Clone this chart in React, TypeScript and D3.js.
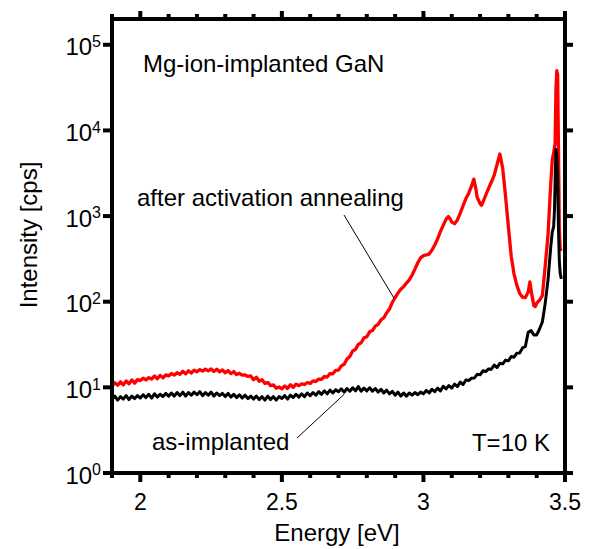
import React from 'react';
import * as d3 from 'd3';

const WIDTH = 591;
const HEIGHT = 549;
const FONT = '"Liberation Sans", Arial, Helvetica, sans-serif';

// Both spectra are sampled on a 0.01 eV grid from 1.90 eV, then listed point by point near the band edge.
const GRID_START = 1.9;
const GRID_STEP = 0.01;

// As-implanted PL intensity [cps], 1.90–3.45 eV
const asImplantedGrid = [
  7.2, 7.9, 7.1, 7.8, 7.3, 8.0, 7.2, 7.9, 7.4, 8.0,
  7.5, 8.2, 7.6, 8.3, 7.5, 8.4, 7.7, 8.3, 7.8, 8.5,
  7.9, 8.6, 7.9, 8.7, 8.0, 8.8, 7.9, 8.7, 8.1, 8.8,
  8.2, 8.9, 8.0, 8.7, 8.1, 8.8, 7.9, 8.6, 8.0, 8.5,
  7.8, 8.5, 7.7, 8.3, 7.6, 8.2, 7.5, 8.1, 7.4, 7.9,
  7.3, 7.9, 7.2, 7.8, 7.1, 7.9, 7.2, 7.8, 7.1, 7.8,
  7.4, 8.0, 7.3, 8.1, 7.6, 8.3, 7.7, 8.4, 7.8, 8.6,
  8.0, 8.7, 8.1, 8.9, 8.3, 9.1, 8.4, 9.3, 8.6, 9.4,
  8.9, 9.6, 8.8, 9.7, 9.0, 9.9, 9.1, 10.2, 9.0, 9.8,
  9.1, 9.9, 9.0, 9.7, 8.8, 9.5, 8.6, 9.3, 8.4, 9.0,
  8.1, 8.8, 7.9, 8.6, 7.9, 8.6, 8.1, 8.7, 8.2, 8.8,
  8.4, 9.2, 8.6, 9.5, 8.9, 9.8, 9.1, 10.3, 9.6, 10.5,
  9.8, 10.9, 10.2, 11.5, 10.8, 12.2, 12.0, 12.8, 12.9, 14.2,
  14.0, 15.6, 15.3, 16.4, 16.3, 18.2, 17.0, 19.1, 18.8, 20.8,
  20.4, 22.9, 22.5, 25.1, 25.2, 28.9, 30.0, 44.0, 46.0, 41.0,
  41.0, 48.0, 58.0, 95.0, 180.0, 450.0,
];
const asImplantedEdgeEnergy = [3.455, 3.46, 3.463, 3.466, 3.468, 3.471, 3.474, 3.477, 3.48, 3.483, 3.487];
const asImplantedEdgeCps = [650, 760, 1200, 3500, 6000, 5000, 3000, 700, 300, 215, 185];

// After activation annealing PL intensity [cps], 1.90–2.95 eV
const annealedGrid = [
  10.3, 11.3, 10.6, 11.6, 10.7, 11.9, 11.0, 12.2, 11.2, 12.3,
  12.0, 12.8, 12.2, 13.0, 12.5, 13.6, 12.6, 13.8, 12.9, 14.0,
  13.6, 14.5, 13.9, 14.8, 14.2, 15.4, 14.4, 15.6, 14.7, 15.9,
  15.2, 16.1, 15.5, 16.3, 15.6, 16.4, 15.3, 16.3, 15.2, 16.0,
  14.8, 15.7, 14.5, 15.3, 14.1, 14.6, 13.9, 14.0, 13.4, 13.6,
  12.3, 13.1, 11.8, 12.3, 11.1, 11.4, 10.5, 10.7, 9.8, 10.1,
  9.6, 10.4, 9.7, 10.7, 10.0, 10.9, 10.5, 11.0, 10.8, 11.4,
  11.1, 11.9, 11.7, 12.5, 12.4, 13.4, 13.2, 14.5, 14.4, 15.8,
  15.9, 17.8, 18.6, 21.4, 22.9, 26.6, 27.8, 31.8, 33.2, 37.8,
  39.0, 44.5, 46.0, 52.0, 54.5, 61.5, 65.0, 74.0, 82.0, 98.0,
  112, 126, 140, 150, 165, 180,
];
const annealedEnergy = [
  2.96, 2.97, 2.98, 2.99, 3.0, 3.01, 3.02, 3.03, 3.04, 3.05, 3.06, 3.07, 3.08,
  3.088, 3.095, 3.1, 3.11, 3.12, 3.13, 3.14, 3.15, 3.16, 3.17, 3.178, 3.185,
  3.19, 3.2, 3.205, 3.21, 3.22, 3.23, 3.24, 3.25, 3.26, 3.27, 3.28, 3.29, 3.3,
  3.31, 3.32, 3.33, 3.34, 3.35, 3.36, 3.37, 3.376, 3.382, 3.39, 3.395, 3.4,
  3.41, 3.42, 3.43, 3.44, 3.45, 3.455, 3.46, 3.465, 3.468, 3.471, 3.474, 3.477,
  3.48, 3.483, 3.486,
];
const annealedCps = [
  205, 240, 285, 325, 345, 352, 360, 400, 460, 540, 660, 780, 920,
  990, 920, 850, 815, 900, 1080, 1320, 1600, 1850, 2250, 2700, 2100,
  1650, 1400, 1340, 1450, 1750, 2100, 2500, 3000, 4000, 5300, 3600, 1700, 750,
  340, 210, 155, 125, 113, 112, 130, 170, 125, 90, 88, 96,
  104, 118, 260, 600, 2500, 4500, 5500, 7000, 30000, 50000, 45000, 6000,
  700, 420, 390,
];

const xMajorTicks = [2, 2.5, 3, 3.5];
const xMajorLabels = ['2', '2.5', '3', '3.5'];
const xMinorTicks = [1.9, 2.1, 2.2, 2.3, 2.4, 2.6, 2.7, 2.8, 2.9, 3.1, 3.2, 3.3, 3.4];
const yTicks = [1, 10, 100, 1000, 10000, 100000];
const yExponents = ['0', '1', '2', '3', '4', '5'];

// Label leader anchors on the curves, in data units [eV, cps]
const annealedAnchor: [number, number] = [2.896, 110];
const asImplantedAnchor: [number, number] = [2.72, 8.3];

const plot = { left: 112, right: 565, top: 19, bottom: 473 };

type Pt = [number, number];

function toPoints(grid: number[], energies: number[], cps: number[]): Pt[] {
  const pts: Pt[] = grid.map((v, i) => [GRID_START + i * GRID_STEP, v]);
  energies.forEach((e, i) => pts.push([e, cps[i]]));
  return pts;
}

export default function App() {
  const x = d3.scaleLinear().domain([1.9, 3.5]).range([plot.left, plot.right]);
  const y = d3.scaleLog().domain([1, 2e5]).range([plot.bottom, plot.top]);
  const line = d3
    .line<Pt>()
    .x((d) => x(d[0]))
    .y((d) => y(d[1]));

  const annealed = toPoints(annealedGrid, annealedEnergy, annealedCps);
  const asImplanted = toPoints(asImplantedGrid, asImplantedEdgeEnergy, asImplantedEdgeCps);

  const axisW = 4;
  const majorLen = 9;
  const minorLen = 5;

  return (
    <svg
      width={WIDTH}
      height={HEIGHT}
      style={{ position: 'absolute', left: 0, top: 0, background: '#fff' }}
      fontFamily={FONT}
    >
      <rect x={0} y={0} width={WIDTH} height={HEIGHT} fill="#fff" />

      {/* spectra */}
      <path d={line(annealed) || ''} fill="none" stroke="#ff0000" strokeWidth={3.3} strokeLinejoin="round" />
      <path d={line(asImplanted) || ''} fill="none" stroke="#000" strokeWidth={3} strokeLinejoin="round" />

      {/* frame */}
      <g stroke="#000" strokeWidth={axisW} strokeLinecap="square">
        <line x1={plot.left} y1={plot.top} x2={plot.right} y2={plot.top} />
        <line x1={plot.left} y1={plot.bottom} x2={plot.right} y2={plot.bottom} />
        <line x1={plot.left} y1={plot.top} x2={plot.left} y2={plot.bottom} />
        <line x1={plot.right} y1={plot.top} x2={plot.right} y2={plot.bottom} />
      </g>

      {/* x ticks, pointing outward on bottom and top */}
      <g stroke="#000" strokeWidth={axisW}>
        {xMajorTicks.map((t) => (
          <g key={'M' + t}>
            <line x1={x(t)} x2={x(t)} y1={plot.bottom} y2={plot.bottom + majorLen} />
            <line x1={x(t)} x2={x(t)} y1={plot.top} y2={plot.top - majorLen + 1} />
          </g>
        ))}
        {xMinorTicks.map((t) => (
          <g key={'m' + t}>
            <line x1={x(t)} x2={x(t)} y1={plot.bottom} y2={plot.bottom + minorLen} />
            <line x1={x(t)} x2={x(t)} y1={plot.top} y2={plot.top - minorLen} />
          </g>
        ))}
        {yTicks.map((t) => (
          <g key={'y' + t}>
            <line x1={plot.left} x2={plot.left - majorLen} y1={y(t)} y2={y(t)} />
            <line x1={plot.right} x2={plot.right + majorLen - 1} y1={y(t)} y2={y(t)} />
          </g>
        ))}
      </g>

      {/* tick labels */}
      <g fill="#000" fontSize={23} textAnchor="middle">
        {xMajorTicks.map((t, i) => (
          <text key={'xl' + t} x={x(t)} y={510}>
            {xMajorLabels[i]}
          </text>
        ))}
      </g>
      <g fill="#000" textAnchor="end">
        {yTicks.map((t, i) => (
          <text key={'yl' + t} x={101} y={y(t) + 10.7} fontSize={24}>
            10
            <tspan fontSize={16} dy={-8.3}>
              {yExponents[i]}
            </tspan>
          </text>
        ))}
      </g>

      {/* axis titles */}
      <text x={337} y={541} fontSize={24} textAnchor="middle" fill="#000">
        Energy [eV]
      </text>
      <text
        transform="translate(37,235) rotate(-90)"
        fontSize={24}
        textAnchor="middle"
        fill="#000"
      >
        Intensity [cps]
      </text>

      {/* annotations */}
      <g fontSize={24} fill="#000">
        <text x={143} y={72}>Mg-ion-implanted GaN</text>
        <text x={137} y={206}>after activation annealing</text>
        <text x={152} y={450}>as-implanted</text>
        <text x={550} y={451} textAnchor="end">T=10 K</text>
      </g>
      <g stroke="#000" strokeWidth={1}>
        <line x1={344} y1={215} x2={x(annealedAnchor[0])} y2={y(annealedAnchor[1])} />
        <line x1={297} y1={438} x2={x(asImplantedAnchor[0])} y2={y(asImplantedAnchor[1])} />
      </g>
    </svg>
  );
}
